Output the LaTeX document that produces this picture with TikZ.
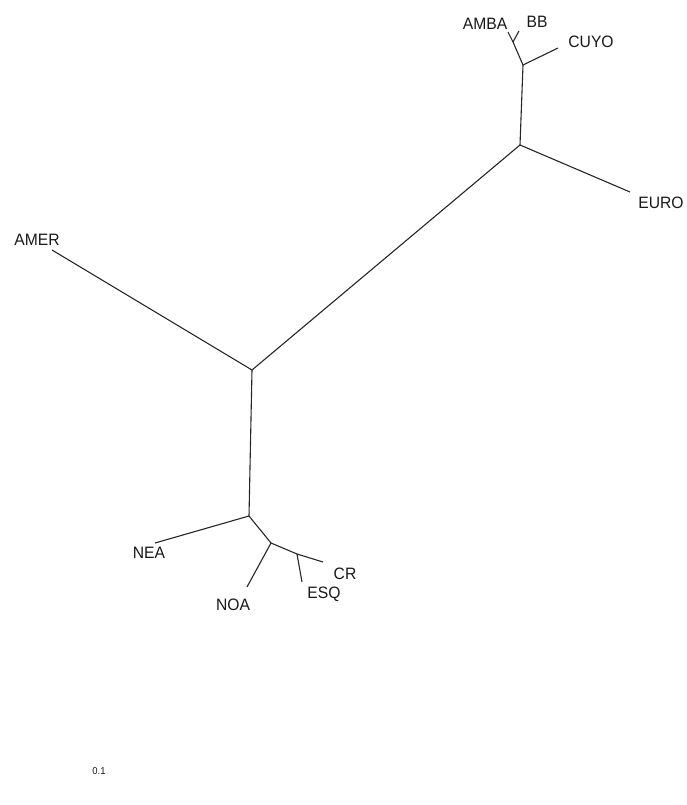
\documentclass[tikz,border=0pt]{standalone}
\usepackage{fontspec}
\setmainfont{Liberation Sans}
\begin{document}
\begin{tikzpicture}[x=1pt,y=-1pt,
  br/.style={line width=1.1pt,black!85},
  lab/.style={inner sep=0pt,font=\fontsize{16.5}{16.5}\selectfont,text=black!90,xscale=0.95}]
\useasboundingbox (0,0) rectangle (686,805);
% internal nodes
\coordinate (n1) at (523,65);
\coordinate (n0) at (513,42);
\coordinate (n2) at (520,145);
\coordinate (n3) at (252,370);
\coordinate (n4) at (249,516);
\coordinate (n5) at (271,543);
\coordinate (n6) at (297,554);
% tips
\coordinate (tAMBA) at (508,32);
\coordinate (tBB) at (519,31);
\coordinate (tCUYO) at (558,48);
\coordinate (tEURO) at (630,192);
\coordinate (tAMER) at (52,250);
\coordinate (tNEA) at (155,543);
\coordinate (tNOA) at (247,587);
\coordinate (tCR) at (323,562);
\coordinate (tESQ) at (302,582);
% branches
\draw[br] (n0) -- (tAMBA);
\draw[br] (n0) -- (tBB);
\draw[br] (n1) -- (n0);
\draw[br] (n1) -- (tCUYO);
\draw[br] (n2) -- (n1);
\draw[br] (n2) -- (tEURO);
\draw[br] (n3) -- (n2);
\draw[br] (n3) -- (tAMER);
\draw[br] (n3) -- (n4);
\draw[br] (n4) -- (tNEA);
\draw[br] (n4) -- (n5);
\draw[br] (n5) -- (tNOA);
\draw[br] (n5) -- (n6);
\draw[br] (n6) -- (tCR);
\draw[br] (n6) -- (tESQ);
% labels
\node[lab] (lAMBA) at (485,24) {AMBA};
\node[lab] (lBB) at (537,22) {BB};
\node[lab] (lCUYO) at (591,42) {CUYO};
\node[lab] (lEURO) at (661,203) {EURO};
\node[lab] (lAMER) at (37,240) {AMER};
\node[lab] (lNEA) at (149,553) {NEA};
\node[lab] (lNOA) at (233,605) {NOA};
\node[lab] (lCR) at (345,574) {CR};
\node[lab] (lESQ) at (324,594) {ESQ};
\node[lab,font=\fontsize{10}{10}\selectfont] (lscale) at (99,771) {0.1};
\end{tikzpicture}
\end{document}
